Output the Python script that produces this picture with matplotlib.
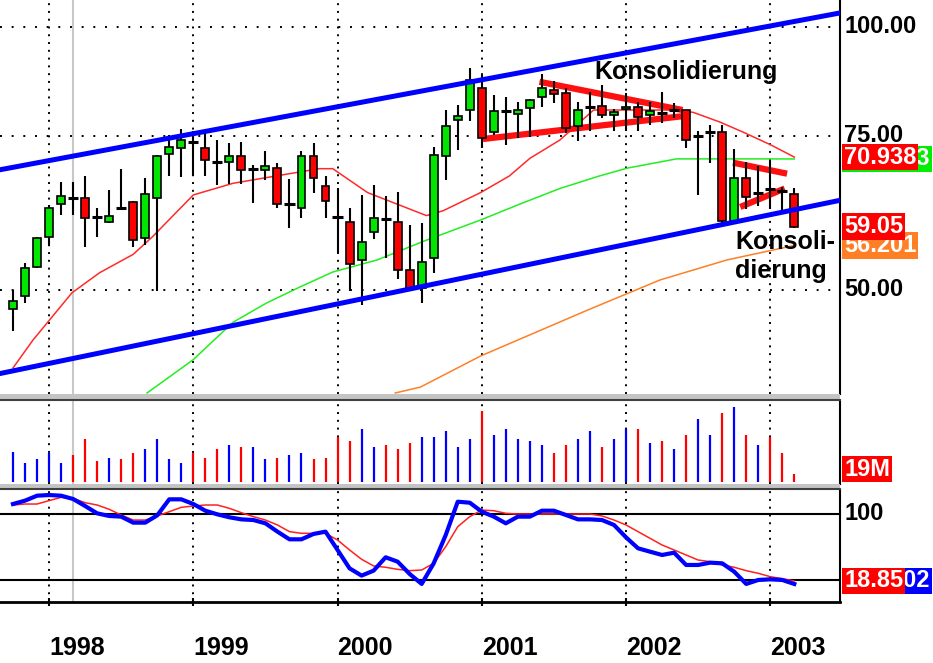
import numpy as np
import matplotlib
matplotlib.use("Agg")
import matplotlib.pyplot as plt
from matplotlib.patches import Rectangle
from matplotlib import transforms

# monthly bars, Oct 1997 .. Mar 2003
opens = [47.6, 49.2, 53.1, 57.5, 62.7, 63.9, 63.7, 60.7, 59.8, 62.1,
         63.0, 57.3, 63.7, 71.6, 72.7, 73.9, 72.6, 70.1, 70.0, 71.1,
         68.6, 68.6, 69.0, 62.8, 62.1, 71.1, 65.8, 60.7, 59.8, 54.1,
         58.2, 60.3, 59.8, 52.7, 50.2, 54.4, 71.1, 78.2, 80.3, 85.0,
         75.7, 80.2, 79.5, 80.7, 83.1, 84.7, 84.0, 77.0, 81.1, 81.2,
         79.3, 80.5, 81.0, 79.3, 79.8, 80.4, 80.3, 75.0, 75.8, 75.7,
         60.0, 67.2, 64.7, 65.3, 64.9, 64.4]
highs = [50.0, 53.6, 57.5, 62.5, 66.5, 66.5, 67.5, 62.0, 65.1, 68.7,
         63.2, 67.1, 71.3, 75.2, 76.4, 76.0, 75.6, 74.2, 73.6, 73.9,
         69.4, 72.0, 69.8, 66.9, 72.0, 73.6, 67.5, 65.4, 62.1, 64.2,
         65.9, 64.1, 64.7, 59.3, 59.6, 72.8, 80.4, 81.4, 89.8, 88.0,
         83.6, 83.1, 82.1, 82.6, 88.4, 86.6, 85.1, 82.1, 84.3, 85.7,
         80.6, 84.0, 82.1, 82.1, 84.3, 81.9, 80.4, 75.9, 77.2, 77.2,
         72.4, 70.1, 69.2, 70.4, 65.6, 65.4]
lows = [44.9, 48.3, 52.9, 56.3, 60.9, 60.9, 56.0, 57.5, 59.6, 61.7,
        56.0, 56.3, 49.9, 67.5, 67.3, 67.5, 67.5, 65.9, 66.0, 66.1,
        62.9, 66.8, 62.0, 58.9, 60.4, 64.6, 60.4, 55.1, 49.9, 48.0,
        57.2, 54.4, 51.4, 50.0, 48.3, 52.3, 66.7, 72.2, 78.1, 72.6,
        75.2, 73.2, 74.6, 74.8, 81.0, 81.8, 75.6, 74.0, 75.9, 78.7,
        75.9, 75.9, 75.9, 77.2, 77.7, 78.7, 72.6, 64.2, 69.8, 59.1,
        59.9, 61.8, 62.3, 61.8, 61.7, 58.9]
closes = [48.5, 52.9, 57.3, 62.0, 64.1, 63.6, 60.4, 60.5, 60.8, 61.9,
          57.0, 64.4, 71.1, 72.9, 74.2, 73.7, 70.4, 69.9, 71.1, 68.6,
          68.8, 69.3, 62.7, 62.6, 71.1, 67.1, 63.2, 60.5, 53.5, 56.7,
          60.4, 60.1, 52.7, 50.2, 53.8, 71.4, 77.0, 79.1, 86.9, 74.6,
          80.0, 80.0, 80.3, 82.5, 85.1, 83.8, 76.6, 80.3, 80.9, 79.3,
          79.9, 81.0, 78.8, 80.0, 79.6, 80.2, 74.2, 74.8, 75.6, 60.0,
          67.1, 63.9, 64.5, 65.1, 64.7, 59.05]
volume = [68, 42, 51, 65, 42, 60, 97, 47, 55, 51,
          65, 74, 97, 51, 42, 65, 55, 74, 83, 78,
          78, 51, 55, 60, 65, 51, 55, 101, 92, 119,
          78, 83, 74, 87, 101, 101, 115, 78, 97, 160,
          106, 119, 97, 92, 83, 65, 83, 97, 115, 78,
          97, 119, 119, 87, 92, 74, 106, 142, 106, 156,
          169, 106, 83, 101, 65, 19]
vol_colors = list("bbbbbrrrbrrbbbbrrrbrbbrbbrrrrbbrrrbbbbbrbbbbbrrbbrbbrbrbrbbrbrbrrr")

# moving averages (month index, value)
ma_red_t = [0, 1.66, 4.9, 7.2, 10.0, 11.6, 15.0, 18.3, 23.0, 25.5, 26.6, 29.5, 34.4,
            35.8, 38.9, 41.3, 43.0, 45.5, 48.3, 55.2, 56.6, 58.8, 60.7, 63.0, 65]
ma_red_v = [40.7, 43.8, 49.6, 52.3, 54.9, 57.5, 64.2, 66.2, 67.9, 68.8, 68.8, 64.6, 60.8,
            61.6, 64.6, 67.5, 70.7, 74.2, 80.3, 80.3, 79.8, 77.8, 75.8, 73.3, 70.938]
ma_grn_t = [11.15, 15.0, 18.3, 21.1, 23.9, 26.6, 30.3, 34.4, 38.9, 42.2, 45.5, 48.8,
            51.1, 55.2, 60.7, 65]
ma_grn_v = [38.1, 41.6, 45.9, 48.3, 50.4, 52.4, 54.1, 57.0, 60.1, 62.7, 65.3, 67.5,
            68.9, 70.6, 70.6, 70.5863]
ma_org_t = [31.8, 33.9, 38.9, 47.8, 53.8, 59.4, 65]
ma_org_v = [38.1, 38.7, 42.0, 47.4, 51.3, 54.1, 56.201]

# trend channel and triangles
trend_hi_t, trend_hi_v = [-1.1, 68.8], [68.6, 103.7]
trend_lo_t, trend_lo_v = [-1.1, 68.8], [40.1, 63.3]
tri1_hi_t, tri1_hi_v = [43.8, 55.7], [86.5, 80.3]
tri1_lo_t, tri1_lo_v = [39.1, 55.7], [74.4, 79.0]
tri2_hi_t, tri2_hi_v = [59.9, 64.4], [69.9, 67.9]
tri2_lo_t, tri2_lo_v = [60.5, 64.2], [62.2, 65.3]

# oscillator
osc_blue = [112.1, 116.2, 122.2, 123.0, 122.2, 118.2, 109.7, 100.8, 97.6, 96.8,
            89.5, 89.5, 98.4, 117.8, 117.8, 112.1, 104.0, 99.6, 96.0, 93.5,
            92.7, 88.7, 78.6, 69.3, 69.3, 75.8, 78.6, 56.4, 34.1, 25.3,
            31.3, 47.5, 42.2, 27.3, 15.2, 40.2, 74.5, 114.9, 113.7, 102.8,
            96.8, 88.7, 96.8, 96.8, 104.0, 104.0, 98.8, 93.5, 93.5, 92.7,
            86.7, 71.7, 58.4, 54.3, 50.3, 53.1, 38.2, 38.2, 41.0, 40.2,
            30.1, 15.2, 20.0, 20.8, 20.0, 15.1502]
osc_red = [110.9, 112.1, 112.1, 116.2, 120.2, 119.0, 113.7, 110.9, 105.7, 98.8,
           92.7, 92.7, 97.6, 102.8, 108.1, 109.7, 110.9, 110.9, 106.9, 101.6,
           96.8, 92.7, 86.7, 78.6, 76.6, 76.6, 76.6, 68.5, 56.4, 45.1,
           37.0, 35.4, 32.9, 31.3, 32.1, 40.2, 60.4, 84.6, 96.8, 104.8,
           104.0, 100.8, 100.0, 100.0, 100.0, 100.0, 100.0, 100.0, 100.0, 97.6,
           92.7, 86.7, 78.6, 70.5, 62.4, 56.4, 50.3, 44.2, 42.2, 38.2,
           35.4, 31.3, 28.1, 24.0, 21.6, 18.85]

year_ticks = [3, 15, 27, 39, 51, 63]
year_labels = ["1998", "1999", "2000", "2001", "2002", "2003"]
price_ticks = [100, 75, 50]

W, H = 933, 663
fig = plt.figure(figsize=(W / 100, H / 100), dpi=100)
fig.patch.set_facecolor("white")


def panel(top, bottom):
    return fig.add_axes([0, 1 - bottom / H, 840 / W, (bottom - top) / H])


ax = panel(0, 394)
axv = panel(401, 484)
axo = panel(490, 602)

LBL = dict(family=["Liberation Sans", "DejaVu Sans"], weight="bold", size=17)
xlim = (-13 / 12.02, 827 / 12.02)

for a in (ax, axv, axo):
    a.set_xlim(*xlim)
    a.set_xticks([])
    a.set_yticks([])
    for s in ("left", "top", "bottom"):
        a.spines[s].set_visible(False)
    a.spines["right"].set_linewidth(1.5)
    for x in year_ticks:
        a.axvline(x, color="black", lw=1.4, ls=(0, (1, 3)), zorder=1)
    a.axvline(5, color="#c8c8c8", lw=1.5, zorder=0.5)

# ---- price panel
ax.set_yscale("log")
ax.set_ylim(38.0, 107.3)
ax.minorticks_off()
ax.set_yticks([])
for y in price_ticks:
    ax.axhline(y, color="black", lw=1.4, ls=(0, (1, 5)), zorder=1)

t = np.arange(len(closes))
o, h, l, c = map(np.array, (opens, highs, lows, closes))

ax.plot(ma_org_t, ma_org_v, color="#ff7f27", lw=1.1, zorder=2)
ax.plot(ma_grn_t, ma_grn_v, color="#22ee22", lw=1.1, zorder=2)
ax.plot(ma_red_t, ma_red_v, color="#ff2a2a", lw=1.1, zorder=2)

for tt, vv in ((tri1_hi_t, tri1_hi_v), (tri1_lo_t, tri1_lo_v),
               (tri2_hi_t, tri2_hi_v), (tri2_lo_t, tri2_lo_v)):
    ax.plot(tt, vv, color="#ff1010", lw=4.5, solid_capstyle="butt", zorder=3)

ax.vlines(t, l, h, color="black", lw=1.5, zorder=4)
doji = np.abs(c - o) / o < 0.005
up = (c > o) & ~doji
dn = (c < o) & ~doji
ax.bar(t[up], (c - o)[up], bottom=o[up], width=0.66, color="#00e600",
       edgecolor="black", lw=1.2, zorder=5)
ax.bar(t[dn], (o - c)[dn], bottom=c[dn], width=0.66, color="#ff0000",
       edgecolor="black", lw=1.2, zorder=5)
ax.hlines(((o + c) / 2)[doji], t[doji] - 0.42, t[doji] + 0.42, color="black",
          lw=2.2, zorder=5)

ax.plot(trend_hi_t, trend_hi_v, color="#0000ff", lw=3.6, zorder=6)
ax.plot(trend_lo_t, trend_lo_v, color="#0000ff", lw=3.6, zorder=6)

ax.text(56.0, 88.8, "Konsolidierung", ha="center", va="center", zorder=7,
        family=["Liberation Sans", "DejaVu Sans"], weight="bold", size=18)
ax.text(60.1, 54.6, "Konsoli-\ndierung", ha="left", va="center", zorder=7,
        linespacing=1.25, family=["Liberation Sans", "DejaVu Sans"], weight="bold", size=18)


def tag(a, y, text, fc=None, fg="white", x=1.005, tr=None):
    kw = dict(ha="left", va="center", color=fg, clip_on=False, zorder=10,
              transform=tr or a.get_yaxis_transform())
    if fc:
        kw["bbox"] = dict(boxstyle="square,pad=0.08", fc=fc, ec="none")
    a.text(x, y, text, **kw, **LBL)


for y in price_ticks:
    tag(ax, y, f"{y:.2f}", fg="black")
tag(ax, ma_grn_v[-1], f"{ma_grn_v[-1]:.4f}", "#00ee00")
tag(ax, ma_red_v[-1], f"{ma_red_v[-1]:.3f}", "#ff0000")
tag(ax, ma_org_v[-1], f"{ma_org_v[-1]:.3f}", "#ff7f27")
tag(ax, closes[-1], f"{closes[-1]:.2f}", "#ff0000")

# ---- volume panel
axv.set_ylim(-4.5, 183)
cmap = {"b": "#0000ff", "r": "#ff0000"}
axv.vlines(t, 0, volume, colors=[cmap[k] for k in vol_colors], lw=1.6, zorder=3)
tag(axv, 0.18, f"{volume[-1]}M", "#ff0000", tr=axv.transAxes)

# ---- oscillator panel
axo.set_ylim(-6.7, 129.1)
axo.axhline(100, color="black", lw=1.5, zorder=2)
axo.axhline(20, color="black", lw=1.5, zorder=2)
axo.plot(t, osc_red, color="#ff2020", lw=1.1, zorder=3)
axo.plot(t, osc_blue, color="#0000ff", lw=3.0, zorder=4)
axo.spines["bottom"].set_visible(True)
axo.spines["bottom"].set_linewidth(2)
axo.set_xticks(year_ticks)
axo.set_xticklabels([])
axo.tick_params(axis="x", direction="inout", length=6, width=1.5)
tag(axo, 100, "100", fg="black")
tag(axo, osc_blue[-1] + 3.7, f"{osc_blue[-1]:.4f}", "#0000ff")
tag(axo, osc_red[-1], f"{osc_red[-1]:.2f}", "#ff0000")

yr = transforms.blended_transform_factory(axo.transData, fig.transFigure)
for x, s in zip(year_ticks, year_labels):
    fig.text(x, 1 - 648 / H, s, transform=yr, ha="left", va="center",
             family=["Liberation Sans", "DejaVu Sans"], weight="bold", size=18)

# panel separators
for top, bot in ((394, 401), (484, 490)):
    fig.add_artist(Rectangle((0, 1 - bot / H), 840 / W, (bot - top) / H,
                             transform=fig.transFigure, fc="#c4c4c4", ec="none"))
    fig.add_artist(plt.Line2D([0, 840 / W], [1 - (bot - 1) / H] * 2,
                              transform=fig.transFigure, color="#404040", lw=1.5))

fig.savefig("out.png", dpi=100)
